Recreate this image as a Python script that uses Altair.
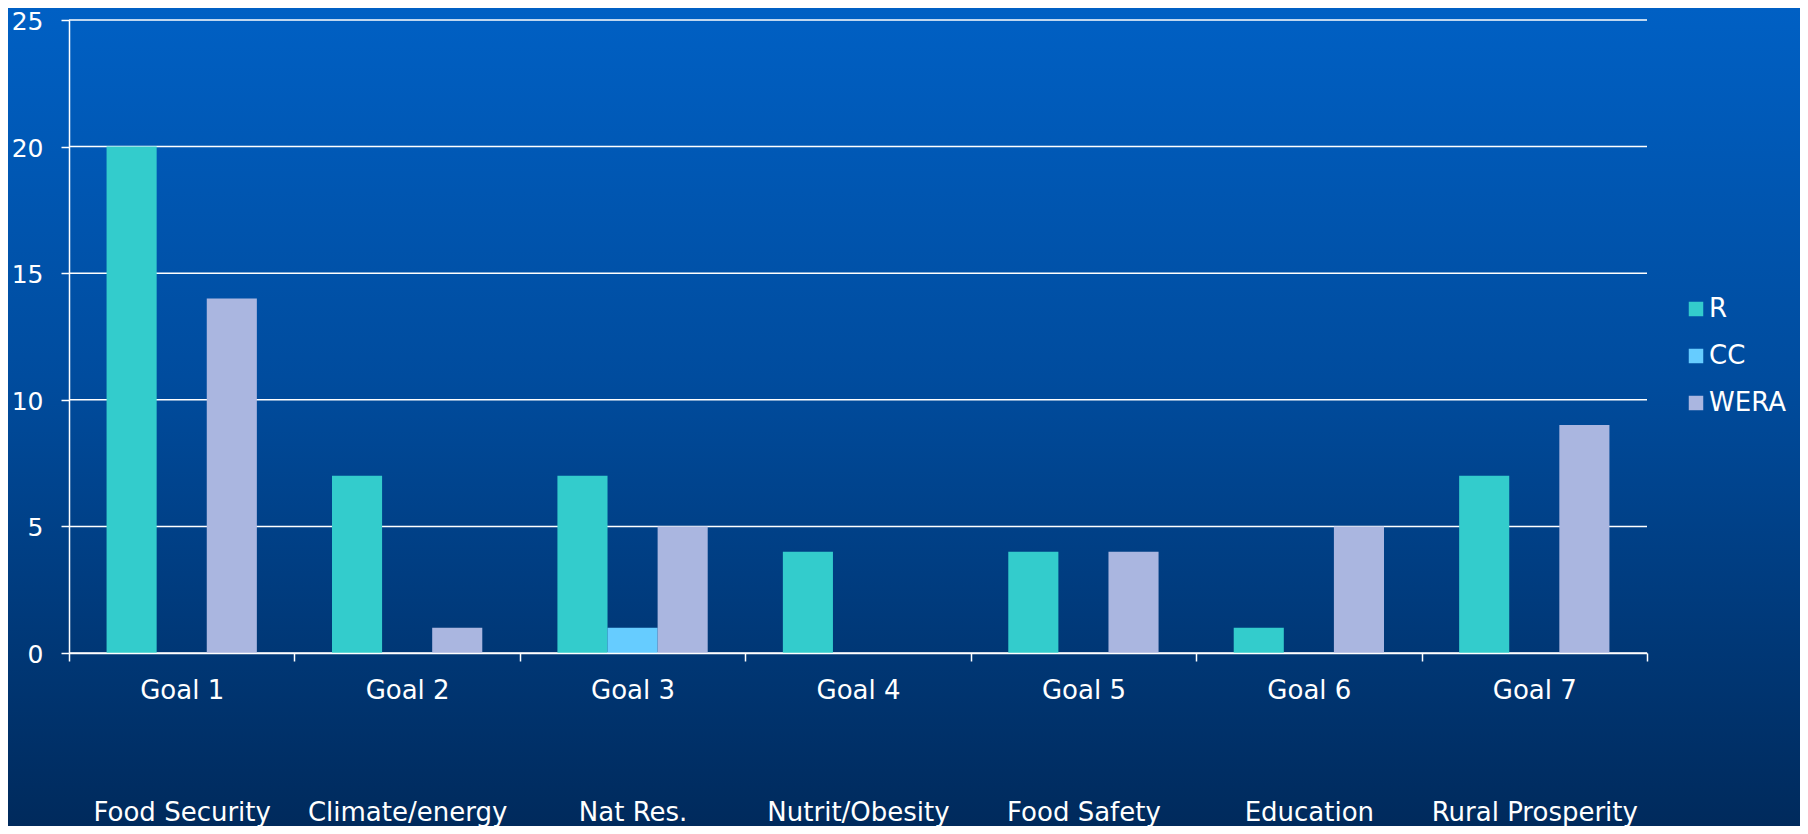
import altair as alt
import pandas as pd

goals = ["Goal 1", "Goal 2", "Goal 3", "Goal 4", "Goal 5", "Goal 6", "Goal 7"]
topics = ["Food Security", "Climate/energy", "Nat Res.", "Nutrit/Obesity",
          "Food Safety", "Education", "Rural Prosperity"]
series = ["R", "CC", "WERA"]
r_vals = [20, 7, 7, 4, 4, 1, 7]
cc_vals = [0, 0, 1, 0, 0, 0, 0]
wera_vals = [14, 1, 5, 0, 4, 5, 9]
colors = ["#33CCCC", "#66CCFF", "#AAB6E0"]
grid_vals = [0, 5, 10, 15, 20, 25]

rows = []
for i, g in enumerate(goals):
    for s, vals in zip(series, [r_vals, cc_vals, wera_vals]):
        rows.append({"goal": g, "series": s, "value": vals[i]})
df = pd.DataFrame(rows)

FONT = "DejaVu Sans"
W, H = 1578, 633
PAD = {"left": 61, "top": 12, "right": 153, "bottom": 173}

goal_list = "[" + ",".join("'%s'" % g for g in goals) + "]"
topic_list = "[" + ",".join("'%s'" % t for t in topics) + "]"
label_expr = f"[datum.label, {topic_list}[indexof({goal_list}, datum.label)]]"

bg_gradient = alt.LinearGradient(
    gradient="linear",
    stops=[alt.GradientStop(color="#0060C4", offset=0),
           alt.GradientStop(color="#004C9E", offset=0.45),
           alt.GradientStop(color="#002A5C", offset=1)],
    x1=0, x2=0, y1=0, y2=1,
)

background = alt.Chart(alt.Data(values=[{"k": 1}])).mark_rect(fill=bg_gradient).encode(
    x=alt.value(-PAD["left"]),
    x2=alt.value(W + PAD["right"]),
    y=alt.value(-PAD["top"]),
    y2=alt.value(H + PAD["bottom"]),
)

y_axis = alt.Axis(values=grid_vals, grid=False, tickSize=8,
                  labelPadding=18, labelFontSize=25, labelOffset=1.5,
                  zindex=1)

grid = alt.Chart(pd.DataFrame({"v": grid_vals})).mark_rule(
    color="white", strokeWidth=1.5
).encode(
    y=alt.Y("v:Q", scale=alt.Scale(domain=[0, 25]), title=None, axis=y_axis),
)

bars = alt.Chart(df).mark_bar().encode(
    x=alt.X("goal:N", sort=goals, title=None,
            scale=alt.Scale(paddingInner=0, paddingOuter=0),
            axis=alt.Axis(labelExpr=label_expr, labelLineHeight=122,
                          labelPadding=16, tickBand="extent", labelAngle=0,
                          tickSize=8, labelFontSize=26, labelLimit=0,
                          zindex=1)),
    xOffset=alt.XOffset("series:N", sort=series,
                        scale=alt.Scale(paddingInner=0, paddingOuter=0.75)),
    y=alt.Y("value:Q", scale=alt.Scale(domain=[0, 25]), title=None, axis=y_axis),
    color=alt.Color("series:N", sort=series,
                    scale=alt.Scale(domain=series, range=colors),
                    legend=alt.Legend(title=None, orient="none", legendX=1614,
                                      legendY=276, symbolType="square",
                                      symbolSize=210, symbolStrokeWidth=0,
                                      labelFontSize=26, labelColor="white",
                                      labelFont=FONT, rowPadding=21,
                                      labelOffset=0, labelLimit=0)),
)

chart = alt.layer(background, grid, bars).properties(
    width=W, height=H, padding=PAD, autosize="none",
    background="#003E84",
).configure_view(stroke=None).configure_axis(
    domainColor="white", domainWidth=1.5, tickColor="white", tickWidth=1.5,
    labelColor="white", labelFont=FONT,
)

chart.save("out.html", embed_options={"renderer": "svg", "actions": False})
